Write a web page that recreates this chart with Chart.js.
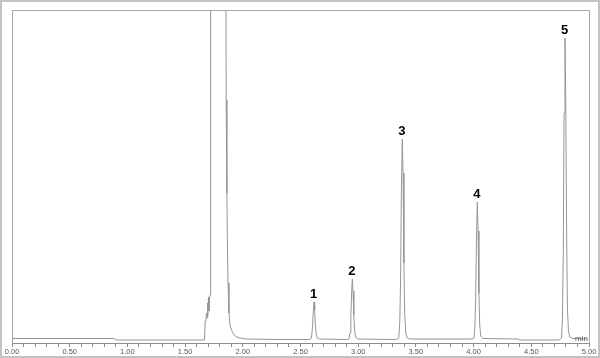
<!DOCTYPE html>
<html>
<head>
<meta charset="utf-8">
<script src="https://cdn.jsdelivr.net/npm/chart.js@4/dist/chart.umd.min.js"></script>
<style>
html,body{margin:0;padding:0;background:#fff;}
#wrap{width:600px;height:358px;position:relative;}
</style>
</head>
<body>
<div id="wrap"><canvas id="c" width="600" height="358"></canvas></div>
<script>
// Retention time (min) of each trace point
const times = [
  0.00, 0.89, 0.90, 1.668,
  1.674, 1.680, 1.686, 1.690, 1.694, 1.698, 1.703, 1.707, 1.711, 1.716, 1.720, 1.722,
  1.852, 1.856, 1.862, 1.867, 1.872, 1.880, 1.889, 1.902, 1.915, 1.935, 1.958, 2.000, 2.036, 2.300,
  2.575, 2.590, 2.598, 2.605, 2.611, 2.617, 2.623, 2.629, 2.636, 2.645, 2.660,
  2.900, 2.920, 2.929, 2.936, 2.943, 2.949, 2.955, 2.962, 2.969, 2.978, 2.995,
  3.330, 3.352, 3.360, 3.367, 3.374, 3.382, 3.389, 3.396, 3.403, 3.412, 3.425, 3.450,
  3.985, 4.003, 4.011, 4.018, 4.025, 4.032, 4.039, 4.046, 4.053, 4.062, 4.080, 4.380, 4.400,
  4.740, 4.762, 4.770, 4.777, 4.784, 4.792, 4.799, 4.806, 4.813, 4.822, 4.835, 4.860, 4.980
];
// Detector signal (arbitrary units) at each time
const signal = [
  4.5, 4.5, 3, 3,
  22, 24, 30, 25, 40, 28, 46, 32, 44, 48, 60, 420,
  420, 243, 150, 96, 60, 30, 18, 13, 10, 7, 5.5, 4.5, 4, 3.5,
  3.5, 4, 8, 18, 32, 41, 33, 18, 9, 5, 4,
  3.5, 4, 10, 26, 50, 64, 52, 28, 12, 6, 4,
  3.5, 5, 20, 60, 150, 204, 170, 80, 30, 10, 5, 4,
  4, 5, 15, 45, 105, 141, 112, 50, 18, 7, 4.5, 4, 3,
  3, 5, 25, 90, 230, 305, 240, 110, 35, 12, 6, 4.5, 4
];
// Peak numbering
const peakLabels = ["1", "2", "3", "4", "5"];
const peakTimes = [2.617, 2.949, 3.382, 4.032, 4.792];
const peakHeights = [41, 64, 204, 141, 305];
// Axis
const xMin = 0, xMax = 5, yMin = 0, yMax = 333;
const xUnit = "min";

const points = times.map((t, i) => ({x: t, y: signal[i]}));

const framePlugin = {
  id: 'frame',
  afterDraw(chart) {
    const ctx = chart.ctx;
    const a = chart.chartArea;
    const xs = chart.scales.x, ys = chart.scales.y;
    ctx.save();
    // outer frame
    ctx.strokeStyle = '#c2c2c2';
    ctx.lineWidth = 2;
    ctx.strokeRect(1, 1, 598, 356);
    // inner box
    ctx.strokeStyle = '#a6a6a6';
    ctx.lineWidth = 1;
    ctx.beginPath();
    ctx.moveTo(a.left + 0.5, a.bottom);
    ctx.lineTo(a.left + 0.5, a.top + 0.5);
    ctx.lineTo(a.right + 0.5, a.top + 0.5);
    ctx.lineTo(a.right + 0.5, a.bottom);
    ctx.stroke();
    // peak labels
    ctx.fillStyle = '#000';
    ctx.font = 'bold 13px "Liberation Sans", Arial, sans-serif';
    ctx.textAlign = 'center';
    ctx.textBaseline = 'middle';
    peakLabels.forEach((lab, i) => {
      const px = xs.getPixelForValue(peakTimes[i]);
      const py = ys.getPixelForValue(peakHeights[i]);
      ctx.fillText(lab, px - 0.5, py - 8);
    });
    // unit label
    ctx.fillStyle = '#555';
    ctx.font = '8px "Liberation Sans", Arial, sans-serif';
    ctx.textAlign = 'right';
    ctx.textBaseline = 'alphabetic';
    ctx.fillText(xUnit, a.right - 1, a.bottom - 2);
    ctx.restore();
  }
};

new Chart(document.getElementById('c'), {
  type: 'scatter',
  data: {
    datasets: [{
      data: points,
      showLine: true,
      borderColor: '#959595',
      borderWidth: 1,
      pointRadius: 0,
      tension: 0,
      fill: false
    }]
  },
  options: {
    responsive: false,
    animation: false,
    events: [],
    layout: {padding: {left: 12, right: 11, top: 10, bottom: 0}},
    plugins: {legend: {display: false}, tooltip: {enabled: false}},
    scales: {
      x: {
        type: 'linear',
        min: xMin, max: xMax,
        afterFit(s) { s.height = 15; },
        border: {display: true, color: '#8c8c8c', width: 1},
        grid: {drawOnChartArea: false, drawTicks: true, tickLength: 4, tickColor: '#8c8c8c'},
        ticks: {
          stepSize: 0.1,
          autoSkip: false,
          maxRotation: 0,
          padding: 0,
          color: '#555',
          font: {size: 7.5, family: '"Liberation Sans", Arial, sans-serif'},
          callback(v) {
            const d = v * 2;
            return Math.abs(d - Math.round(d)) < 1e-6 ? Number(v).toFixed(2) : '';
          }
        }
      },
      y: {
        display: false,
        min: yMin, max: yMax
      }
    }
  },
  plugins: [framePlugin]
});
</script>
</body>
</html>
